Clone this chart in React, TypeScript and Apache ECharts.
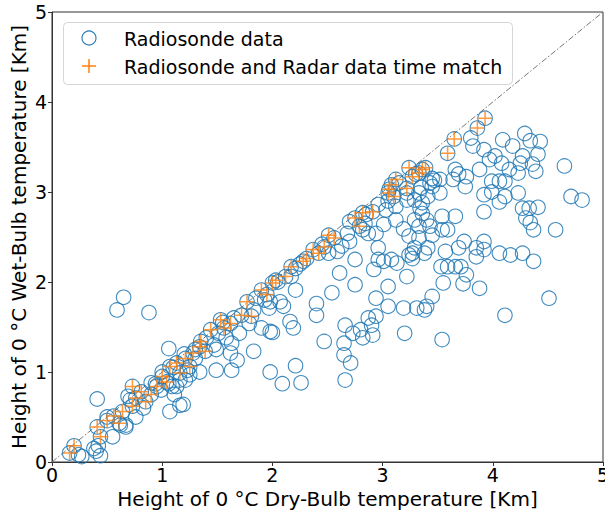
import React, { useEffect, useRef } from "react";
import * as echarts from "echarts";

const axisTicks = [0, 1, 2, 3, 4, 5];
const xAxisTitle = "Height of 0 °C Dry-Bulb temperature [Km]";
const yAxisTitle = "Height of 0 °C Wet-Bulb temperature [Km]";
const seriesNames = ["Radiosonde data", "Radiosonde and Radar data time match"];

// Radiosonde points that also have a radar time match
const matchedPoints: [number, number][] = [
  [0.16, 0.1], [0.2, 0.18], [0.41, 0.39], [0.44, 0.28], [0.5, 0.46], [0.56, 0.51],
  [0.61, 0.43], [0.64, 0.56], [0.73, 0.84], [0.73, 0.62], [0.76, 0.71], [0.81, 0.78],
  [0.85, 0.67], [0.9, 0.75], [0.95, 0.84], [1.0, 0.95], [1.04, 0.89], [1.07, 1.06],
  [1.13, 1.1], [1.16, 0.99], [1.21, 1.15], [1.25, 1.06], [1.28, 1.21], [1.34, 1.28],
  [1.39, 1.23], [1.35, 1.34], [1.44, 1.47], [1.53, 1.58], [1.56, 1.49], [1.62, 1.54],
  [1.72, 1.63], [1.77, 1.78], [1.81, 1.62], [1.9, 1.91], [1.95, 1.86], [2.0, 1.99],
  [2.03, 2.02], [2.12, 2.06], [2.17, 2.17], [2.28, 2.23], [2.31, 2.26], [2.37, 2.36],
  [2.42, 2.32], [2.47, 2.39], [2.51, 2.52], [2.56, 2.49], [2.75, 2.71], [2.79, 2.62],
  [2.82, 2.77], [2.91, 2.78], [3.05, 2.99], [3.08, 3.08], [3.1, 2.95], [3.12, 3.14],
  [3.06, 3.03], [3.22, 3.04], [3.24, 3.27], [3.27, 3.17], [3.33, 3.21], [3.36, 3.25],
  [3.39, 3.27], [3.59, 3.43], [3.65, 3.59], [3.86, 3.71], [3.93, 3.82]
];

// Radiosonde points without a radar time match
const otherPoints: [number, number][] = [
  [0.27, 0.06], [0.24, 0.08], [0.38, 0.15], [0.4, 0.12], [0.42, 0.18], [0.44, 0.07],
  [0.41, 0.7], [0.55, 0.28], [0.59, 1.69], [0.65, 1.83], [0.88, 1.66], [0.67, 0.41],
  [0.62, 0.41], [0.67, 0.39], [0.76, 0.5], [0.83, 0.6], [0.71, 0.69], [0.69, 0.73],
  [0.94, 0.87], [0.99, 0.8], [1.06, 1.26], [1.07, 0.56], [1.16, 0.63], [1.19, 0.64],
  [1.11, 0.75], [1.13, 0.84], [1.09, 0.84], [1.06, 0.87], [1.16, 0.91], [1.21, 0.91],
  [1.25, 0.97], [1.23, 1.02], [1.34, 1.0], [1.3, 1.15], [1.49, 1.02], [1.63, 1.02],
  [1.68, 1.13], [1.62, 1.21], [1.49, 1.25], [1.47, 1.3], [1.63, 1.32], [1.51, 1.43],
  [1.58, 1.38], [1.83, 1.23], [1.7, 1.43], [1.9, 1.49], [1.79, 1.54], [1.83, 1.69],
  [1.93, 1.8], [1.98, 1.78], [2.07, 1.78], [1.97, 1.71], [1.98, 1.45], [2.0, 1.44],
  [2.1, 1.73], [2.16, 1.56], [2.19, 1.49], [1.98, 1.0], [2.09, 0.87], [2.21, 1.07],
  [2.26, 0.88], [2.21, 1.91], [2.17, 2.06], [2.21, 2.15], [2.4, 1.76], [2.4, 1.63],
  [2.47, 1.34], [2.54, 1.88], [2.61, 2.1], [2.66, 1.52], [2.65, 1.32], [2.65, 1.19],
  [2.71, 1.1], [2.66, 0.91], [2.75, 2.25], [2.75, 1.97], [2.73, 1.43], [2.82, 1.38],
  [2.8, 1.47], [2.87, 1.6], [2.91, 1.41], [2.9, 1.52], [2.94, 1.62], [2.94, 1.82],
  [3.05, 1.73], [3.05, 1.95], [2.92, 2.14], [2.96, 2.25], [3.01, 2.23], [3.08, 2.25],
  [3.13, 2.21], [2.96, 2.38], [3.2, 1.43], [3.19, 1.71], [3.22, 2.06], [3.31, 1.71],
  [3.38, 1.69], [3.4, 1.73], [3.45, 1.84], [3.54, 1.36], [3.55, 1.99], [3.57, 2.34],
  [3.53, 2.17], [3.59, 2.17], [3.66, 2.17], [3.71, 2.17], [3.76, 2.08], [3.73, 1.98],
  [3.88, 1.93], [3.69, 2.38], [3.74, 2.45], [3.85, 2.38], [3.85, 2.28], [3.92, 2.45],
  [3.92, 2.36], [4.06, 2.32], [4.16, 2.3], [4.27, 2.32], [4.37, 2.23], [4.11, 1.63],
  [4.51, 1.82], [4.57, 2.58], [4.37, 2.58], [4.34, 2.66], [4.3, 2.71], [4.27, 2.82],
  [4.33, 2.82], [4.41, 2.83], [4.65, 3.29], [4.71, 2.95], [4.81, 2.91], [4.23, 2.99],
  [4.06, 2.89], [4.11, 2.95], [3.92, 2.78], [3.92, 2.97], [3.99, 3.0], [3.99, 3.12],
  [4.06, 3.12], [4.11, 3.12], [3.88, 3.25], [3.97, 3.36], [4.02, 3.4], [4.08, 3.32],
  [4.15, 3.25], [4.23, 3.21], [4.25, 3.32], [4.27, 3.4], [4.36, 3.31], [4.39, 3.23],
  [4.41, 3.42], [4.43, 3.56], [4.34, 3.57], [4.29, 3.65], [4.18, 3.51], [4.09, 3.58],
  [3.92, 3.47], [3.8, 3.6], [3.82, 3.51], [3.66, 3.25], [3.69, 3.2], [3.76, 3.17],
  [3.75, 3.06], [3.64, 3.14], [3.52, 3.14], [3.52, 2.99], [3.47, 3.13], [3.45, 3.06],
  [3.41, 2.95], [3.36, 2.88], [3.34, 2.82], [3.36, 2.76], [3.4, 2.69], [3.29, 2.69],
  [3.33, 2.62], [3.43, 2.62], [3.45, 2.52], [3.54, 2.58], [3.59, 2.58], [3.54, 2.73],
  [3.66, 2.73], [3.19, 2.59], [3.24, 2.51], [3.33, 2.49], [3.29, 2.38], [3.27, 2.32],
  [3.24, 2.3], [3.27, 2.26], [3.38, 2.32], [3.41, 2.38], [3.12, 2.69], [3.12, 2.84],
  [3.03, 2.8], [3.01, 2.64], [2.94, 2.54], [2.87, 2.54], [2.84, 2.65], [2.82, 2.58],
  [2.96, 2.86], [3.22, 2.91], [3.29, 2.91], [3.33, 2.99], [3.22, 2.99], [3.43, 3.1],
  [2.68, 2.54], [2.7, 2.45], [2.63, 2.4], [2.59, 2.34], [2.51, 2.32],
  [0.5, 0.5], [0.9, 0.88], [1.0, 1.0], [1.1, 1.05], [1.2, 1.2], [1.3, 1.25],
  [1.4, 1.38], [1.55, 1.55], [1.65, 1.6], [1.85, 1.82], [2.05, 2.0], [2.25, 2.2],
  [2.45, 2.42], [2.7, 2.67], [2.85, 2.75], [3.05, 2.9], [3.15, 3.1], [3.3, 3.2],
  [3.45, 3.15], [3.35, 3.05]
];

const oneToOneLine: [number, number][] = [[0, 0], [5, 5]];

const BLUE = "#1f77b4";
const ORANGE = "#ff7f0e";
const FONT = "DejaVu Sans";
const PLUS_PATH = "path://M7,0L7,14M0,7L14,7";

export default function App() {
  const ref = useRef<HTMLDivElement>(null);
  useEffect(() => {
    if (!ref.current) return;
    const chart = echarts.init(ref.current, null, { renderer: "svg" });
    const axisCommon = {
      type: "value",
      min: axisTicks[0],
      max: axisTicks[axisTicks.length - 1],
      interval: 1,
      nameLocation: "middle",
      nameGap: 24,
      nameMoveOverlap: false,
      nameTextStyle: { fontSize: 20, color: "#000", fontFamily: FONT },
      axisLine: { show: true, lineStyle: { color: "#333", width: 1 } },
      axisTick: { show: true, inside: false, length: 4, lineStyle: { color: "#333" } },
      axisLabel: {
        fontSize: 19, color: "#000", fontFamily: FONT, margin: 5,
        showMinLabel: true, showMaxLabel: true,
        formatter: (v: number) => String(v)
      },
      splitLine: { show: false }
    };
    chart.setOption({
      animation: false,
      backgroundColor: "#fff",
      grid: {
        left: 52, right: 2, top: 12, bottom: 49,
        outerBoundsMode: "none",
        containLabel: false,
        show: true, borderColor: "#333", borderWidth: 1, backgroundColor: "transparent"
      },
      xAxis: {
        ...axisCommon,
        name: xAxisTitle,
        nameGap: 27,
        axisLabel: { ...axisCommon.axisLabel, margin: 3, lineHeight: 19 }
      },
      yAxis: { ...axisCommon, name: yAxisTitle, nameGap: 23 },
      series: [
        {
          type: "line",
          data: oneToOneLine,
          symbol: "none",
          silent: true,
          z: 1,
          lineStyle: { color: "#777", width: 1, type: [6, 2, 1.5, 2] }
        },
        {
          name: seriesNames[0],
          type: "scatter",
          data: [...otherPoints, ...matchedPoints],
          symbol: "circle",
          symbolSize: 14.5,
          z: 2,
          itemStyle: { color: "rgba(0,0,0,0)", borderColor: BLUE, borderWidth: 1.1, opacity: 0.85 }
        },
        {
          name: seriesNames[1],
          type: "scatter",
          data: matchedPoints,
          symbol: PLUS_PATH,
          symbolSize: 14,
          z: 3,
          itemStyle: { color: "rgba(0,0,0,0)", borderColor: ORANGE, borderWidth: 1.5 }
        }
      ],
      graphic: [
        {
          type: "group",
          z: 100,
          children: [
            {
              type: "rect",
              shape: { x: 63.5, y: 22.5, width: 449, height: 62, r: 4 },
              style: { fill: "rgba(255,255,255,0.85)", stroke: "#d6d6d6", lineWidth: 1 }
            },
            {
              type: "circle",
              shape: { cx: 89, cy: 38, r: 7 },
              style: { fill: "none", stroke: BLUE, lineWidth: 1.1 }
            },
            {
              type: "line",
              shape: { x1: 89, y1: 59, x2: 89, y2: 73 },
              style: { stroke: ORANGE, lineWidth: 1.5 }
            },
            {
              type: "line",
              shape: { x1: 82, y1: 66, x2: 96, y2: 66 },
              style: { stroke: ORANGE, lineWidth: 1.5 }
            },
            {
              type: "text",
              x: 124, y: 39,
              style: { text: seriesNames[0], fontSize: 19, fontFamily: FONT, fill: "#000", verticalAlign: "middle" }
            },
            {
              type: "text",
              x: 124, y: 67,
              style: { text: seriesNames[1], fontSize: 19, fontFamily: FONT, fill: "#000", verticalAlign: "middle" }
            }
          ]
        }
      ]
    });
    return () => chart.dispose();
  }, []);
  return (
    <div
      ref={ref}
      style={{ position: "fixed", left: 0, top: 0, width: 605, height: 511 }}
    />
  );
}
